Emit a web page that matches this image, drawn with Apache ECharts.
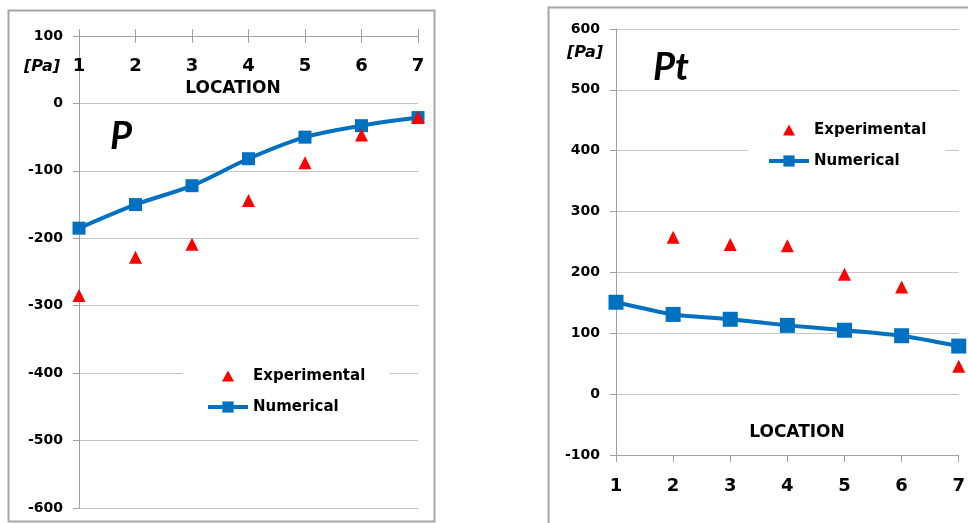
<!DOCTYPE html>
<html><head><meta charset="utf-8">
<script src="https://cdn.jsdelivr.net/npm/echarts@6/dist/echarts.min.js"></script>
<style>html,body{margin:0;padding:0;background:#fff}#c{width:968px;height:523px}</style>
</head><body><div id="c"></div>
<script>
const locations = ['1', '2', '3', '4', '5', '6', '7'];
const pExperimental = [-285, -228, -209, -144, -88, -47, -21];
const pNumerical = [-185, -150, -122, -82, -50, -33, -21];
const ptExperimental = [null, 258, 246, 244, 197, 176, 46];
const ptNumerical = [151, 131, 123, 113, 105, 96, 79];
const pAxis = { min: -600, max: 100, interval: 100 };
const ptAxis = { min: -100, max: 600, interval: 100 };

const FONT = 'DejaVu Sans';
const BIG_FONT = 'Lato';
const AXIS_COLOR = '#a0a0a0';
const GRID_COLOR = '#c4c4c4';
const BLUE = '#0070C0';
const RED = '#FF0000';
// small triangle centred in a 40x14 legend icon box (tiny corner specks fix the box size)
const LEGEND_TRIANGLE = 'path://M0,0L0.01,0L0,0.01ZM40,14L39.99,14L40,13.99ZM14,12.5L26,12.5L20,1.5Z';

const chart = echarts.init(document.getElementById('c'), null, { renderer: 'canvas' });

const xLabel = { fontFamily: FONT, fontWeight: 'bold', fontSize: 18, color: '#000' };
const yLabel = { fontFamily: FONT, fontWeight: 'bold', fontSize: 14, color: '#000' };

function yAxisFor(gridIndex, range) {
  return {
    type: 'value', gridIndex: gridIndex,
    min: range.min, max: range.max, interval: range.interval,
    axisLine: { show: true, lineStyle: { color: AXIS_COLOR, width: 1 } },
    axisTick: { show: true, length: 6, lineStyle: { color: AXIS_COLOR } },
    splitLine: { show: true, lineStyle: { color: GRID_COLOR, width: 1 } },
    axisLabel: Object.assign({ margin: 16 }, yLabel)
  };
}

const legendBase = {
  orient: 'vertical',
  backgroundColor: '#fff',
  itemWidth: 40, itemHeight: 14, itemGap: 11,
  symbolKeepAspect: false,
  lineStyle: { width: 4 },
  textStyle: { fontFamily: FONT, fontWeight: 'bold', fontSize: 15, color: '#000', lineHeight: 20 },
  data: [{ name: 'Experimental', icon: LEGEND_TRIANGLE }, { name: 'Numerical' }],
  selectedMode: false
};

const option = {
  animation: false,
  backgroundColor: '#fff',
  grid: [
    { left: 79, top: 36, width: 339, height: 472 },
    { left: 616, top: 29, width: 347, height: 426 }
  ],
  xAxis: [
    {
      type: 'category', gridIndex: 0, position: 'top', boundaryGap: false, data: locations,
      axisLine: { onZero: false, lineStyle: { color: AXIS_COLOR, width: 1 } },
      axisTick: { show: true, length: 7, lineStyle: { color: AXIS_COLOR } },
      axisLabel: Object.assign({ inside: true, margin: 21 }, xLabel),
      splitLine: { show: false }
    },
    {
      type: 'category', gridIndex: 0, position: 'top', boundaryGap: false, data: locations,
      axisLine: { show: false, onZero: false },
      axisTick: { show: true, inside: true, length: 7, lineStyle: { color: AXIS_COLOR } },
      axisLabel: { show: false },
      splitLine: { show: false }
    },
    {
      type: 'category', gridIndex: 1, position: 'bottom', boundaryGap: false, data: locations,
      axisLine: { onZero: false, lineStyle: { color: AXIS_COLOR, width: 1 } },
      axisTick: { show: true, length: 7, lineStyle: { color: AXIS_COLOR } },
      axisLabel: Object.assign({ margin: 22 }, xLabel),
      splitLine: { show: false }
    }
  ],
  yAxis: [yAxisFor(0, pAxis), yAxisFor(1, ptAxis)],
  legend: [
    Object.assign({ left: 183, top: 358, padding: [8, 24, 8, 23] }, legendBase),
    Object.assign({ left: 748, top: 112, padding: [8, 19, 8, 19] }, legendBase)
  ],
  series: [
    {
      name: 'Numerical', type: 'line', xAxisIndex: 0, yAxisIndex: 0, data: pNumerical,
      smooth: 0.35, symbol: 'rect', symbolSize: 13, showSymbol: true,
      lineStyle: { color: BLUE, width: 4 }, itemStyle: { color: BLUE }, z: 2
    },
    {
      name: 'Experimental', type: 'scatter', xAxisIndex: 0, yAxisIndex: 0, data: pExperimental,
      symbol: 'triangle', symbolSize: 13, itemStyle: { color: RED, opacity: 1 }, z: 3
    },
    {
      name: 'Numerical', type: 'line', xAxisIndex: 2, yAxisIndex: 1, data: ptNumerical,
      smooth: 0.2, symbol: 'rect', symbolSize: 15, showSymbol: true,
      lineStyle: { color: BLUE, width: 4 }, itemStyle: { color: BLUE }, z: 2
    },
    {
      name: 'Experimental', type: 'scatter', xAxisIndex: 2, yAxisIndex: 1, data: ptExperimental,
      symbol: 'triangle', symbolSize: 13, itemStyle: { color: RED, opacity: 1 }, z: 3
    }
  ],
  graphic: [
    { type: 'rect', shape: { x: 8.5, y: 10.5, width: 426, height: 511 }, style: { fill: 'none', stroke: '#a6a6a6', lineWidth: 2 }, silent: true },
    { type: 'rect', shape: { x: 548.5, y: 7.5, width: 440, height: 540 }, style: { fill: 'none', stroke: '#a6a6a6', lineWidth: 2 }, silent: true },
    { type: 'text', x: 60, y: 67, style: { text: '[Pa]', fontFamily: FONT, fontWeight: 'bold', fontStyle: 'italic', fontSize: 16, fill: '#000', align: 'right', verticalAlign: 'middle' } },
    { type: 'text', x: 603, y: 53, style: { text: '[Pa]', fontFamily: FONT, fontWeight: 'bold', fontStyle: 'italic', fontSize: 16, fill: '#000', align: 'right', verticalAlign: 'middle' } },
    { type: 'text', x: 110, y: 137, style: { text: 'P', fontFamily: BIG_FONT, fontWeight: 'bold', fontStyle: 'italic', fontSize: 38, fill: '#000', align: 'left', verticalAlign: 'middle' } },
    { type: 'text', x: 653, y: 68, style: { text: 'Pt', fontFamily: BIG_FONT, fontWeight: 'bold', fontStyle: 'italic', fontSize: 38, fill: '#000', align: 'left', verticalAlign: 'middle' } },
    { type: 'text', x: 233, y: 89, style: { text: 'LOCATION', fontFamily: FONT, fontWeight: 'bold', fontSize: 17, fill: '#000', align: 'center', verticalAlign: 'middle' } },
    { type: 'text', x: 797, y: 433, style: { text: 'LOCATION', fontFamily: FONT, fontWeight: 'bold', fontSize: 17, fill: '#000', align: 'center', verticalAlign: 'middle' } }
  ]
};
chart.setOption(option);
</script>
</body></html>
